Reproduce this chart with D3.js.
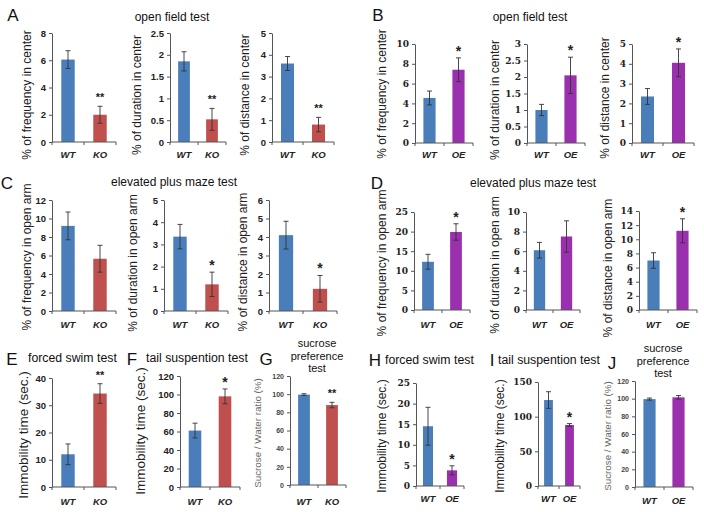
<!DOCTYPE html>
<html><head><meta charset="utf-8">
<script src="https://cdn.jsdelivr.net/npm/d3@7"></script>
<style>body{margin:0;background:#fff} svg{display:block}</style>
</head><body><svg id="c" width="704" height="512"></svg>
<script>
// ---------- data ----------
const groupsKO = ["WT","KO"];
const groupsOE = ["WT","OE"];

const openFieldKOMeans = [[6.05,2.0],[1.85,0.52],[3.6,0.8]];
const openFieldKOErr   = [[0.65,0.62],[0.22,0.25],[0.32,0.33]];
const openFieldKOStars = ["**","**","**"];
const openFieldKOTicks = [[0,2,4,6,8],[0,0.5,1,1.5,2,2.5],[0,1,2,3,4,5]];

const openFieldOEMeans = [[4.55,7.4],[1.0,2.05],[2.35,4.05]];
const openFieldOEErr   = [[0.7,1.2],[0.17,0.55],[0.4,0.7]];
const openFieldOEStars = ["*","*","*"];
const openFieldOETicks = [[0,2,4,6,8,10],[0,0.5,1,1.5,2,2.5,3],[0,1,2,3,4,5]];

const openFieldLabels = ["% of frequency in center","% of duration in center","% of distance in center"];

const plusMazeKOMeans = [[9.2,5.65],[3.35,1.2],[4.1,1.2]];
const plusMazeKOErr   = [[1.5,1.45],[0.55,0.55],[0.75,0.72]];
const plusMazeKOStars = ["","*","*"];
const plusMazeKOTicks = [[0,2,4,6,8,10,12],[0,1,2,3,4,5],[0,1,2,3,4,5,6]];

const plusMazeOEMeans = [[12.3,19.9],[6.1,7.5],[7.0,11.2]];
const plusMazeOEErr   = [[1.9,2.1],[0.8,1.6],[1.1,1.7]];
const plusMazeOEStars = ["*","","*"];
const plusMazeOETicks = [[0,5,10,15,20,25],[0,2,4,6,8,10],[0,2,4,6,8,10,12,14]];

const plusMazeLabels = ["% of frequency in open arm","% of duration in open arm","% of distance in open arm"];

const moodKOMeans = [[12,34.3],[61,98],[99.5,88]];
const moodKOErr   = [[3.8,3.6],[8,8],[1,3]];
const moodKOStars = ["**","*","**"];
const moodKOTicks = [[0,10,20,30,40],[0,20,40,60,80,100,120],[0,20,40,60,80,100,120]];

const moodOEMeans = [[14.5,3.8],[124,88],[99.5,101.5]];
const moodOEErr   = [[4.6,1.1],[12,2],[1.2,2]];
const moodOEStars = ["*","*",""];
const moodOETicks = [[0,5,10,15,20,25],[0,50,100,150],[0,20,40,60,80,100,120]];

const moodLabels = ["Immobility time (sec.)","Immobility time (sec.)","Sucrose / Water ratio (%)"];

const panelLetters = ["A","B","C","D","E","F","G","H","I","J"];
const rowTitles = ["open field test","open field test","elevated plus maze test","elevated plus maze test"];
const moodTitles = ["forced swim test","tail suspention test",["sucrose","preference","test"]];

// ---------- style ----------
const BLUE = "#4a7ebb", RED = "#c0504d", PURPLE = "#9b30ae";
const SANS = "'Liberation Sans', Arial, sans-serif";
const SERIF = "'DejaVu Serif', 'Liberation Serif', serif";

const svg = d3.select("#c");

function drawPanel(cfg){
  const L = cfg.layout;
  const g = svg.append("g");
  const y = d3.scaleLinear().domain([0, d3.max(cfg.ticks)]).range([L.yBot, L.yTop]);
  const x = d3.scaleBand().domain(cfg.groups).range([L.x0, L.x0 + L.w]).paddingInner(0.58).paddingOuter(0.29);
  const step = x.step();

  // y axis
  const ya = g.append("g").attr("transform", `translate(${L.x0},0)`)
    .call(d3.axisLeft(y).tickValues(cfg.ticks).tickSize(3).tickSizeOuter(0).tickPadding(3).tickFormat(d => String(d)));
  ya.select(".domain").attr("stroke", "#555");
  ya.selectAll(".tick line").attr("stroke", "#555");
  ya.selectAll(".tick text").attr("font-family", cfg.tickFont).attr("font-weight", "bold")
    .attr("font-size", cfg.tickSize).attr("fill", cfg.tickColor || "#222");

  // bars
  g.selectAll("rect.bar").data(cfg.groups).join("rect")
    .attr("x", d => x(d)).attr("width", x.bandwidth())
    .attr("y", (d,i) => y(cfg.means[i])).attr("height", (d,i) => y(0) - y(cfg.means[i]))
    .attr("fill", (d,i) => i === 0 ? BLUE : cfg.color2);

  // error bars
  cfg.groups.forEach((d,i) => {
    const cx = x(d) + x.bandwidth()/2;
    const hi = y(cfg.means[i] + cfg.err[i]), lo = y(cfg.means[i] - cfg.err[i]);
    g.append("line").attr("x1", cx).attr("x2", cx).attr("y1", hi).attr("y2", lo).attr("stroke", "#333").attr("stroke-width", 0.9);
    [hi, lo].forEach(v => g.append("line").attr("x1", cx-2.5).attr("x2", cx+2.5).attr("y1", v).attr("y2", v).attr("stroke", "#333").attr("stroke-width", 0.9));
  });

  // x axis
  g.append("line").attr("x1", L.x0).attr("x2", L.x0 + L.w).attr("y1", L.yBot).attr("y2", L.yBot).attr("stroke", "#555");
  d3.range(cfg.groups.length + 1).forEach(i => {
    g.append("line").attr("x1", L.x0 + i*step).attr("x2", L.x0 + i*step)
      .attr("y1", L.yBot).attr("y2", L.yBot + 3).attr("stroke", "#555");
  });
  g.selectAll("text.cat").data(cfg.groups).join("text")
    .attr("x", d => x(d) + x.bandwidth()/2).attr("y", L.catY)
    .attr("text-anchor", "middle").attr("font-family", SANS).attr("font-weight", "bold")
    .attr("font-style", "italic").attr("font-size", 9.5).attr("fill", "#222").text(d => d);

  // significance
  if (cfg.star){
    const cx = x(cfg.groups[1]) + x.bandwidth()/2;
    const top = y(cfg.means[1] + cfg.err[1]);
    const dbl = cfg.star === "**";
    g.append("text").attr("x", cx).attr("y", dbl ? top - 5 : top - 2)
      .attr("text-anchor", "middle").attr("font-family", SANS).attr("font-weight", "bold")
      .attr("font-size", dbl ? 11 : 14).attr("fill", "#222").text(cfg.star);
  }

  // y label
  g.append("text").attr("transform", `translate(${L.lx},${L.ly}) rotate(-90)`)
    .attr("text-anchor", "middle").attr("dominant-baseline", "central")
    .attr("font-family", SANS).attr("font-size", cfg.labelSize).attr("fill", cfg.labelColor || "#222")
    .text(cfg.label);
}

// ---------- layout ----------
const layoutA = [
  {x0:52, w:64, yTop:33, yBot:142, lx:27, ly:95, catY:158},
  {x0:170, w:56, yTop:33, yBot:142, lx:137, ly:95, catY:158},
  {x0:272, w:62, yTop:33, yBot:142, lx:245, ly:95, catY:158}];
const layoutB = [
  {x0:415, w:58, yTop:44, yBot:143, lx:382, ly:94, catY:158},
  {x0:527, w:58, yTop:44, yBot:143, lx:495, ly:100, catY:158},
  {x0:632, w:62, yTop:44, yBot:143, lx:605, ly:98, catY:158}];
const layoutC = [
  {x0:52, w:64, yTop:200, yBot:311, lx:27, ly:257, catY:328},
  {x0:164, w:64, yTop:200, yBot:311, lx:133, ly:263, catY:328},
  {x0:269, w:68, yTop:200, yBot:311, lx:243, ly:262, catY:328}];
const layoutD = [
  {x0:414, w:56, yTop:212, yBot:310, lx:382, ly:263, catY:328},
  {x0:526, w:54, yTop:212, yBot:310, lx:495, ly:265, catY:328},
  {x0:639, w:58, yTop:211, yBot:310, lx:608, ly:268, catY:328}];
const layoutE = [
  {x0:52, w:64, yTop:378, yBot:487, lx:23, ly:435, catY:505},
  {x0:180, w:60, yTop:376, yBot:487, lx:140, ly:431, catY:505},
  {x0:290, w:56, yTop:376, yBot:485, lx:257, ly:433, catY:505}];
const layoutH = [
  {x0:416, w:48, yTop:383, yBot:486, lx:382, ly:436, catY:502},
  {x0:538, w:42, yTop:382, yBot:486, lx:500, ly:436, catY:502},
  {x0:635, w:58, yTop:381, yBot:487, lx:607, ly:436, catY:504}];

// ---------- panels ----------
[0,1,2].forEach(i => {
  drawPanel({groups:groupsKO, means:openFieldKOMeans[i], err:openFieldKOErr[i], star:openFieldKOStars[i],
    ticks:openFieldKOTicks[i], label:openFieldLabels[i], color2:RED, layout:layoutA[i],
    tickFont:SANS, tickSize:9.5, labelSize:12});
  drawPanel({groups:groupsOE, means:openFieldOEMeans[i], err:openFieldOEErr[i], star:openFieldOEStars[i],
    ticks:openFieldOETicks[i], label:openFieldLabels[i], color2:PURPLE, layout:layoutB[i],
    tickFont:SERIF, tickSize:9, labelSize:12});
  drawPanel({groups:groupsKO, means:plusMazeKOMeans[i], err:plusMazeKOErr[i], star:plusMazeKOStars[i],
    ticks:plusMazeKOTicks[i], label:plusMazeLabels[i], color2:RED, layout:layoutC[i],
    tickFont:SANS, tickSize:9.5, labelSize:12});
  drawPanel({groups:groupsOE, means:plusMazeOEMeans[i], err:plusMazeOEErr[i], star:plusMazeOEStars[i],
    ticks:plusMazeOETicks[i], label:plusMazeLabels[i], color2:PURPLE, layout:layoutD[i],
    tickFont:SERIF, tickSize:9, labelSize:12});
  const isSuc = i === 2;
  drawPanel({groups:groupsKO, means:moodKOMeans[i], err:moodKOErr[i], star:moodKOStars[i],
    ticks:moodKOTicks[i], label:moodLabels[i], color2:RED, layout:layoutE[i],
    tickFont:SANS, tickSize:isSuc ? 7 : 9.5, tickColor:isSuc ? "#444" : "#222",
    labelSize:isSuc ? 9.8 : 13.5, labelColor:isSuc ? "#666" : "#222"});
  drawPanel({groups:groupsOE, means:moodOEMeans[i], err:moodOEErr[i], star:moodOEStars[i],
    ticks:moodOETicks[i], label:moodLabels[i], color2:PURPLE, layout:layoutH[i],
    tickFont:isSuc ? SANS : SERIF, tickSize:isSuc ? 7 : 9, tickColor:isSuc ? "#444" : "#222",
    labelSize:isSuc ? 9.8 : 12, labelColor:isSuc ? "#666" : "#222"});
});

// ---------- titles & letters ----------
const letterPos = [[13,21],[378,21],[7,189],[377,189],[12,365],[132,365],[266,365],[375,366],[492,366],[612,369]];
panelLetters.forEach((t,i) => {
  svg.append("text").attr("x", letterPos[i][0]).attr("y", letterPos[i][1]).attr("text-anchor","middle")
    .attr("font-family", SANS).attr("font-size", 17).attr("fill", "#111").text(t);
});
const rowTitlePos = [[172,21],[530,21],[174,186],[533,187]];
rowTitles.forEach((t,i) => {
  svg.append("text").attr("x", rowTitlePos[i][0]).attr("y", rowTitlePos[i][1]).attr("text-anchor","middle")
    .attr("font-family", SANS).attr("font-size", 12).attr("fill", "#111").text(t);
});
const moodTitleSets = [
  {pos:[[28,362],[146,362]]},
  {pos:[[385,364],[498,364]]}];
moodTitleSets.forEach(s => {
  [0,1].forEach(k => svg.append("text").attr("x", s.pos[k][0]).attr("y", s.pos[k][1]).attr("text-anchor", "start")
    .attr("font-family", SANS).attr("font-size", 12.3).attr("fill", "#111").text(moodTitles[k]));
});
[[317,347],[663,352]].forEach(p => {
  moodTitles[2].forEach((line,j) => svg.append("text").attr("x", p[0]).attr("y", p[1] + j*12.5)
    .attr("text-anchor","middle").attr("font-family", SANS).attr("font-size", 11).attr("fill", "#111").text(line));
});
</script>
</body></html>
